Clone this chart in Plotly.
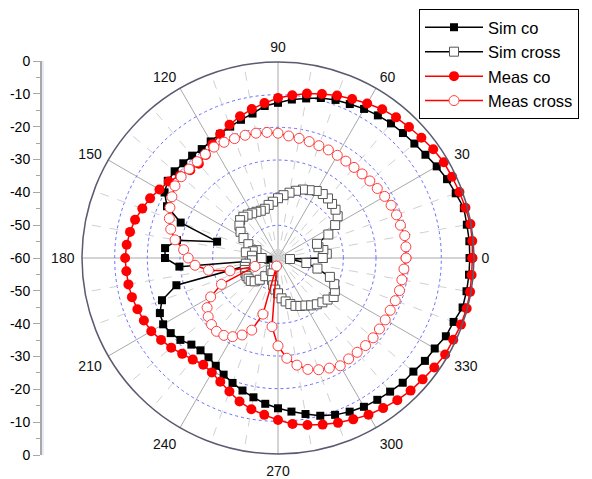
import plotly.graph_objects as go

# ---------------- data ----------------
angles = list(range(0, 360, 5))

sim_co = [-1.3, -1.2, -1.3, -1.1, -2.1, -2.9, -3.9, -4.9, -5.5, -5.9, -6.2, -6.7,
          -7.3, -8.0, -8.5, -9.3, -10.4, -11.3, -12.5, -13.3, -15.1, -16.2, -17.2, -18.1,
          -18.8, -19.3, -19.1, -19.0, -18.7, -18.8, -19.9, -22.5, -28.3, -40.7, -28.6, -25.3,
          -25.4, -29.7, -57.0, -27.8, -22.2, -20.1, -19.4, -19.9, -21.0, -22.5, -23.1, -22.9,
          -21.9, -20.6, -19.3, -18.0, -16.7, -15.2, -14.0, -12.8, -11.5, -10.0, -8.9, -8.1,
          -7.4, -7.0, -6.6, -6.0, -5.9, -5.1, -4.6, -3.3, -2.8, -1.5, -1.4, -1.3]

sim_cross = [-46.3, -45.0, -45.9, -47.2, -47.3, -43.0, -39.8, -37.7, -37.0, -36.6, -36.2, -36.1,
             -36.3, -37.1, -37.7, -38.7, -39.7, -40.7, -41.7, -42.7, -43.5, -44.4, -44.6, -44.4,
             -44.2, -43.8, -43.5, -43.6, -44.6, -46.0, -47.8, -50.0, -53.0, -52.0, -50.0, -52.0,
             -55.0, -52.0, -50.0, -49.5, -49.3, -49.0, -48.9, -49.0, -49.1, -49.9, -51.3, -53.2,
             -55.6, -57.0, -55.0, -53.0, -51.5, -50.3, -49.2, -47.6, -46.5, -45.4, -44.4, -43.8,
             -43.2, -42.3, -41.5, -40.8, -40.2, -39.2, -39.9, -41.0, -43.1, -47.5, -51.2, -56.3]

meas_co = [-0.5, -0.3, -0.2, -0.6, -0.9, -1.2, -1.4, -2.0, -2.7, -3.3, -3.8, -4.4,
           -5.4, -6.3, -7.1, -8.0, -8.9, -10.0, -11.0, -12.4, -13.7, -15.1, -16.6, -18.1,
           -19.8, -21.5, -22.3, -22.0, -20.8, -19.2, -18.1, -16.8, -15.8, -14.7, -14.0, -13.5,
           -13.2, -13.4, -13.5, -13.7, -14.2, -14.7, -15.2, -16.3, -17.3, -18.5, -19.4, -20.1,
           -19.5, -18.2, -16.5, -14.5, -13.0, -11.8, -10.4, -9.0, -8.1, -7.2, -6.3, -5.5,
           -4.6, -3.9, -3.2, -2.6, -2.2, -1.6, -0.9, -0.8, -0.4, -0.2, -0.3, -0.5]

meas_cross = [-20.8, -20.7, -20.6, -21.2, -21.4, -21.8, -22.3, -22.9, -23.3, -23.6, -23.8, -23.8,
              -23.7, -23.5, -23.4, -23.1, -22.8, -22.5, -21.8, -21.4, -21.2, -21.1, -21.1, -20.9,
              -20.8, -21.2, -21.5, -21.5, -21.3, -21.5, -22.5, -23.5, -24.6, -26.0, -28.0, -31.0,
              -32.5, -34.5, -38.4, -44.8, -52.5, -40.9, -36.2, -33.5, -32.1, -31.2, -30.7, -31.1,
              -32.2, -34.0, -36.5, -42.2, -57.5, -38.9, -33.1, -29.2, -26.7, -24.7, -23.6, -22.8,
              -21.9, -22.3, -22.3, -22.1, -22.0, -22.1, -22.1, -22.1, -21.8, -21.5, -21.5, -21.3]

series_names = ["Sim co", "Sim cross", "Meas co", "Meas cross"]
angular_ticks = list(range(0, 360, 30))
minor_spokes = [a for a in range(0, 360, 10) if a % 30 != 0]
radial_grid = [-50, -40, -30, -20, -10]
left_axis_pos = list(range(0, 130, 10))
left_axis_labels = ["0", "-10", "-20", "-30", "-40", "-50", "-60",
                    "-50", "-40", "-30", "-20", "-10", "0"]

FONT = "Liberation Sans, Arial, sans-serif"


def closed(vals):
    return list(vals) + [vals[0]]


theta_closed = angles + [angles[0]]

fig = go.Figure()

# minor dashed spokes (grid)
sp_t, sp_r = [], []
for a in minor_spokes:
    sp_t += [a, a, None]
    sp_r += [-60, 0, None]
fig.add_trace(go.Scatterpolar(theta=sp_t, r=sp_r, mode="lines",
                              line=dict(color="#d0d0d0", width=1, dash="dash"),
                              hoverinfo="skip", showlegend=False))

fig.add_trace(go.Scatterpolar(
    theta=theta_closed, r=closed(sim_co), name=series_names[0], mode="lines+markers",
    line=dict(color="black", width=1.5),
    marker=dict(symbol="square", size=8, color="black")))

fig.add_trace(go.Scatterpolar(
    theta=theta_closed, r=closed(sim_cross), name=series_names[1], mode="lines+markers",
    line=dict(color="black", width=1.5),
    marker=dict(symbol="square", size=9, color="white",
                line=dict(color="#555555", width=1))))

fig.add_trace(go.Scatterpolar(
    theta=theta_closed, r=closed(meas_co), name=series_names[2], mode="lines+markers",
    line=dict(color="#ff0000", width=1.5),
    marker=dict(symbol="circle", size=10, color="#ff0000")))

fig.add_trace(go.Scatterpolar(
    theta=theta_closed, r=closed(meas_cross), name=series_names[3], mode="lines+markers",
    line=dict(color="#ff0000", width=1.5),
    marker=dict(symbol="circle", size=10, color="white",
                line=dict(color="#ff4040", width=1))))

# empty trace to create the left linear scale
fig.add_trace(go.Scatter(x=[], y=[], xaxis="x", yaxis="y", showlegend=False))

# the page body adds an 8px margin; the figure is sized so it fills the window
OFF = 8
W, H = 592 - OFF, 479 - OFF


def fx(sx):
    return (sx - OFF) / W


def fy(sy):
    return 1 - (sy - OFF) / H


cx, cy, R = 278, 258, 196

fig.update_layout(
    width=W, height=H,
    margin=dict(l=0, r=0, t=0, b=0, autoexpand=False),
    paper_bgcolor="white",
    font=dict(family=FONT, size=14, color="black"),
    polar=dict(
        domain=dict(x=[fx(cx - R), fx(cx + R)], y=[fy(cy + R), fy(cy - R)]),
        bgcolor="white",
        angularaxis=dict(
            rotation=0, direction="counterclockwise",
            tickmode="array", tickvals=angular_ticks,
            ticktext=[str(a) for a in angular_ticks],
            ticks="outside", ticklen=4, tickcolor="rgba(0,0,0,0)",
            showgrid=True, gridcolor="#a8a8a8", gridwidth=1,
            showline=True, linecolor="#5a5a70", linewidth=1.5,
            tickfont=dict(size=14, family=FONT, color="#111111"),
        ),
        radialaxis=dict(
            range=[-60, 0], tickmode="array", tickvals=radial_grid,
            showticklabels=False, ticks="",
            showgrid=True, gridcolor="#6a6aff", gridwidth=1, griddash="dot",
            showline=False, angle=0,
        ),
    ),
    xaxis=dict(domain=[fx(42), fx(44)], visible=False, range=[0, 1]),
    yaxis=dict(
        domain=[fy(455), fy(61)], anchor="x",
        range=[120, 0], tickmode="array", tickvals=left_axis_pos,
        ticktext=left_axis_labels,
        showline=True, linecolor="#a8a8a8", linewidth=2,
        ticks="outside", ticklen=7, tickcolor="#a8a8a8", tickwidth=1,
        minor=dict(dtick=5, ticks="outside", ticklen=4, tickcolor="#a8a8a8"),
        showgrid=False, zeroline=False, automargin=False,
        tickfont=dict(size=14, family=FONT, color="black"),
    ),
    legend=dict(
        x=fx(419), y=fy(9), xanchor="left", yanchor="top",
        bordercolor="black", borderwidth=1, bgcolor="white",
        font=dict(size=16.5, family=FONT, color="black"),
        itemwidth=58, tracegroupgap=0,
    ),
)

fig.write_html("out.html")
